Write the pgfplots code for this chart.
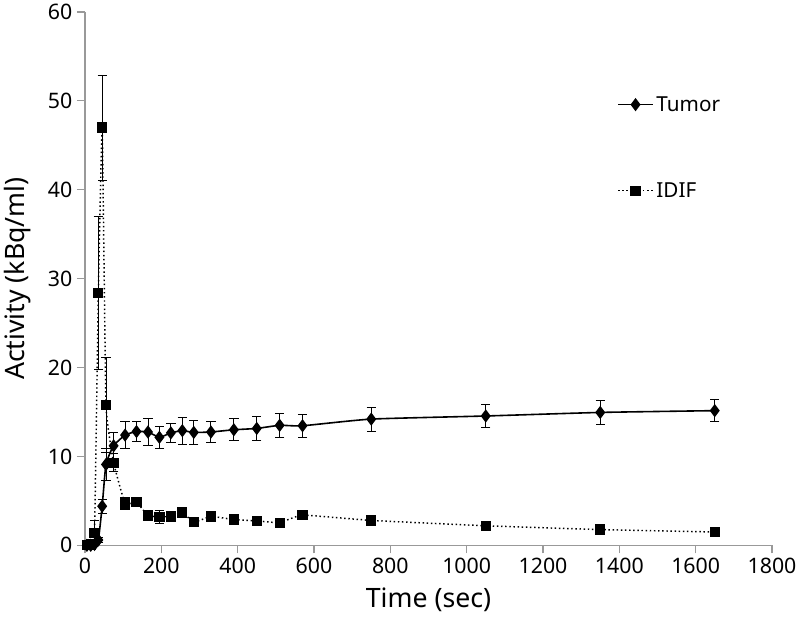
\documentclass[border=0pt]{standalone}
\usepackage{fontspec}
\setmainfont{Noto Sans}
\usepackage{pgfplots}
\pgfplotsset{compat=1.18}
\newcommand{\tl}{\fontsize{16}{18}\selectfont}
\begin{document}
\begin{tikzpicture}
\begin{axis}[
  scale only axis,
  width=515.25pt, height=400pt,
  xmin=0, xmax=1800, ymin=0, ymax=60,
  xtick={0,200,...,1800}, ytick={0,10,...,60},
  xticklabels={{\tl 0},{\tl 200},{\tl 400},{\tl 600},{\tl 800},{\tl 1000},{\tl 1200},{\tl 1400},{\tl 1600},{\tl 1800}},
  yticklabels={{\tl 0},{\tl 10},{\tl 20},{\tl 30},{\tl 40},{\tl 50},{\tl 60}},
  axis x line=bottom, axis y line=left,
  axis line style={gray!80, -, line width=0.8pt},
  tick style={gray!80, line width=0.8pt},
  tick align=outside, major tick length=6pt,
  xlabel={Time (sec)}, ylabel={Activity (kBq/ml)},
  label style={font=\fontsize{20}{24}\selectfont},
  xlabel style={yshift=-4pt},
  ylabel style={yshift=6pt},
  legend style={draw=none, fill=none, at={(axis cs:1394,50.85)}, anchor=north west,
    row sep=48pt, font=\fontsize{15.5}{18}\selectfont, inner sep=0pt,
    nodes={inner sep=2pt}},
  legend cell align=left,
  legend image code/.code={\draw[mark repeat=2,mark phase=2] plot coordinates {(0cm,0cm) (0.46cm,0cm) (0.92cm,0cm)};},
]
\coordinate (ll) at (rel axis cs:0,0);
\coordinate (ur) at (rel axis cs:1,1);
\addplot[black, line width=1.2pt, smooth, tension=0.3,
  mark=diamond*, mark size=4pt, mark options={solid},
  error bars/.cd, y dir=both, y explicit,
  error bar style={line width=0.7pt, solid},
  error mark options={line width=0.7pt, mark size=3.5pt, rotate=90}]
table[x=t, y=v, y error=e] {
t v e
5 0 0
15 0 0
25 0.1 0.1
35 0.6 0.3
45 4.4 0.8
55 9.1 1.8
75 11.2 1.5
105 12.4 1.5
135 12.8 1.15
165 12.75 1.5
195 12.15 1.2
225 12.65 1.1
255 12.9 1.5
285 12.7 1.35
330 12.75 1.2
390 13.0 1.25
450 13.15 1.3
510 13.5 1.35
570 13.45 1.3
750 14.2 1.35
1050 14.55 1.3
1350 14.95 1.3
1650 15.15 1.25
};
\addlegendentry{Tumor}
\addplot[black, line width=1.1pt, dotted, smooth, tension=0.2,
  mark=square*, mark size=3.3pt, mark options={solid},
  error bars/.cd, y dir=both, y explicit,
  error bar style={line width=0.7pt, solid},
  error mark options={line width=0.7pt, mark size=3.5pt, rotate=90}]
table[x=t, y=v, y error=e] {
t v e
5 0 0
15 0.1 0
25 1.4 1.4
35 28.4 8.6
45 47.0 5.9
55 15.8 5.3
75 9.3 1.0
105 4.7 0.7
135 4.85 0.4
165 3.35 0.2
195 3.2 0.7
225 3.25 0.6
255 3.7 0.4
285 2.6 0.2
330 3.25 0.2
390 2.9 0.2
450 2.75 0.2
510 2.55 0.2
570 3.4 0.2
750 2.8 0.15
1050 2.2 0.15
1350 1.77 0.1
1650 1.5 0.1
};
\addlegendentry{IDIF}
\end{axis}
\pgfresetboundingbox
\path[use as bounding box] ([shift={(-63.75pt,-57pt)}]ll) rectangle ([shift={(21pt,9pt)}]ur);
\end{tikzpicture}
\end{document}
